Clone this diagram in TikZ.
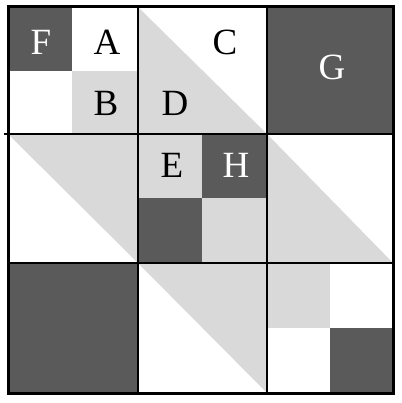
\documentclass[tikz,border=0pt]{standalone}
\usepackage{fontspec}
\setmainfont{Liberation Serif}
\definecolor{dk}{HTML}{5A5A5A}
\definecolor{lt}{HTML}{D9D9D9}
\tikzset{
  lab/.style={font=\fontsize{37}{37}\selectfont, inner sep=0pt, anchor=center},
  wlab/.style={lab, text=white},
  blab/.style={lab, text=black},
  grid line/.style={line width=1.6pt, black},
  frame/.style={line width=3pt, black}
}
\begin{document}
\begin{tikzpicture}[x=1pt,y=-1pt]
\useasboundingbox[fill=white] (0,0) rectangle (401,403);
% row 1
\fill[dk] (8,7) rectangle (72,71);
\fill[lt] (72,71) rectangle (138,134);
\fill[lt] (138,7) -- (267,134) -- (138,134) -- cycle;
\fill[dk] (267,7) rectangle (393,134);
% row 2
\fill[lt] (8,134) -- (138,134) -- (138,263) -- cycle;
\fill[lt] (138,134) rectangle (202,198);
\fill[dk] (202,134) rectangle (267,198);
\fill[dk] (138,198) rectangle (202,263);
\fill[lt] (202,198) rectangle (267,263);
\fill[lt] (267,134) -- (393,263) -- (267,263) -- cycle;
% row 3
\fill[dk] (8,263) rectangle (138,393);
\fill[lt] (138,263) -- (267,263) -- (267,393) -- cycle;
\fill[lt] (267,263) rectangle (330,328);
\fill[dk] (330,328) rectangle (393,393);
% grid
\draw[grid line] (4,134) -- (393,134);
\draw[grid line] (8,263) -- (393,263);
\draw[grid line] (138,7) -- (138,393);
\draw[grid line] (267,7) -- (267,393);
\draw[frame] (8,7) rectangle (393,393);
% labels
\node[wlab] (F) at (41,42) {F};
\node[blab] (A) at (107,42) {A};
\node[blab] (B) at (106,103) {B};
\node[blab] (C) at (225,42) {C};
\node[blab] (D) at (175,103) {D};
\node[wlab] (G) at (332,67) {G};
\node[blab] (E) at (172,165) {E};
\node[wlab] (H) at (236,165) {H};
\end{tikzpicture}
\end{document}
